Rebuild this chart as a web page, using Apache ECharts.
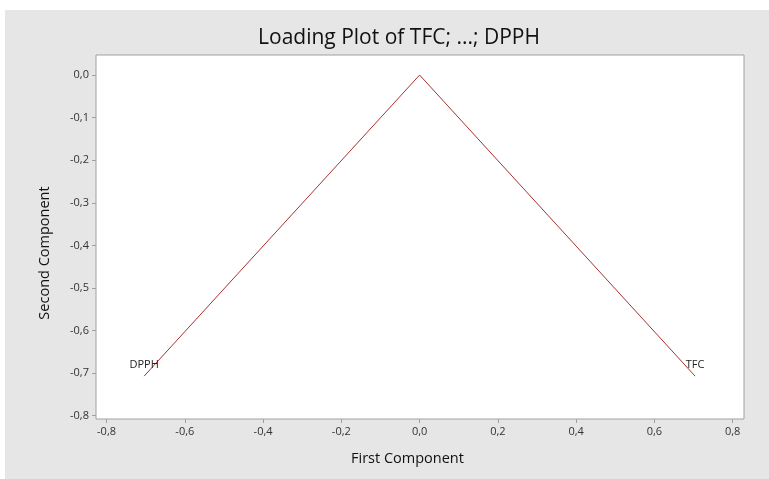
<!DOCTYPE html>
<html><head><meta charset="utf-8">
<script src="https://cdn.jsdelivr.net/npm/echarts@6/dist/echarts.min.js"></script>
<style>
html,body{margin:0;padding:0;background:#fff;}
#bg{position:absolute;left:5px;top:10px;width:764px;height:469px;background:#e6e6e6;}
#c{position:absolute;left:0;top:0;width:769px;height:479px;}
</style></head>
<body><div id="bg"></div><div id="c"></div>
<script>
const variables = ['TFC', 'DPPH'];
const pc1 = [0.704, -0.704];
const pc2 = [-0.707, -0.707];
const xTicks = [-0.8, -0.6, -0.4, -0.2, 0.0, 0.2, 0.4, 0.6, 0.8];
const yTicks = [0.0, -0.1, -0.2, -0.3, -0.4, -0.5, -0.6, -0.7, -0.8];
const titleText = 'Loading Plot of TFC; ...; DPPH';
const xName = 'First Component';
const yName = 'Second Component';

const fmt = v => (Math.abs(v) < 1e-9 ? 0 : v).toFixed(1).replace('.', ',');
const chart = echarts.init(document.getElementById('c'));
const series = variables.map((name, i) => ({
  type: 'line', name: name, symbol: 'circle', symbolSize: 0.01, showSymbol: true, silent: true,
  itemStyle: { color: 'rgba(0,0,0,0)' },
  lineStyle: { color: '#a83232', width: 1 },
  label: { show: false },
  data: [[0, 0], { value: [pc1[i], pc2[i]],
    label: { show: true, formatter: name, position: 'top', distance: 6, color: '#222', fontSize: 11, fontFamily: 'Open Sans' } }]
}));
chart.setOption({
  animation: false,
  title: { text: titleText, left: 394, textAlign: 'center', top: 23,
    textStyle: { fontFamily: 'Open Sans', fontWeight: 'normal', fontSize: 21, color: '#111' } },
  graphic: [
    { type: 'text', left: 351, top: 451, style: { text: xName, font: '14.5px "Open Sans"', fill: '#111' } },
    { type: 'text', x: 37, y: 253, rotation: Math.PI / 2, style: { text: yName, font: '14.5px "Open Sans"', fill: '#111', align: 'center', verticalAlign: 'top' } }
  ],
  grid: { left: 96, right: 25, top: 55, bottom: 60, show: true, backgroundColor: '#fff', borderColor: '#a0a0a0', borderWidth: 1 },
  xAxis: { type: 'value', min: -0.827, max: 0.829,
    axisLine: { show: false, onZero: false }, splitLine: { show: false },
    axisTick: { show: true, length: 4, lineStyle: { color: '#a0a0a0' }, customValues: xTicks },
    axisLabel: { customValues: xTicks, formatter: fmt, fontFamily: 'Open Sans', fontSize: 11, color: '#333', margin: 7 } },
  yAxis: { type: 'value', min: -0.8077, max: 0.047,
    axisLine: { show: false, onZero: false }, splitLine: { show: false },
    axisTick: { show: true, length: 4, lineStyle: { color: '#a0a0a0' }, customValues: yTicks },
    axisLabel: { customValues: yTicks, formatter: fmt, fontFamily: 'Open Sans', fontSize: 11, color: '#333', margin: 7 } },
  series: series
});
</script></body></html>
